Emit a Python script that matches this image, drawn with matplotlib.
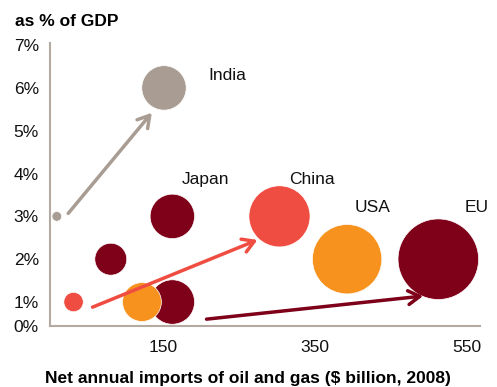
import matplotlib.pyplot as plt

plt.rcParams['font.family'] = ['Liberation Sans', 'DejaVu Sans']

# bubbles: imports ($bn), share of GDP (%), diameter (pt), colour
imports = [10, 81, 162, 162, 32, 122, 151, 303, 392, 512]
gdp_share = [3, 2, 3, 1, 1, 1, 6, 3, 2, 2]
diameters = [7, 23, 32, 32, 14, 28, 32, 44, 50, 58]
colors = ['#A89C93', '#7E0019', '#7E0019', '#7E0019', '#F04D42',
          '#F7921E', '#A89C93', '#F04D42', '#F7921E', '#7E0019']

# arrows: (start x, start y, end x, end y)
arrows = [
    (25, 3.07, 135, 5.42, '#A89C93'),
    (57, 0.88, 274, 2.45, '#F04D42'),
    (207, 0.60, 492, 1.14, '#7E0019'),
]

labels = ['India', 'Japan', 'China', 'USA', 'EU']
label_x = [209, 175, 316, 402, 546]
label_y = [6.3, 3.85, 3.85, 3.2, 3.2]

y_ticks = [0.44, 1, 2, 3, 4, 5, 6, 7]
y_tick_labels = ['0%', '1%', '2%', '3%', '4%', '5%', '6%', '7%']
x_ticks = [150, 350, 550]

fig = plt.figure(figsize=(4.97, 3.87), dpi=100)
ax = fig.add_axes([0.1006, 0.1576, 0.8654, 0.7314])

ax.scatter(imports, gdp_share, s=[d ** 2 for d in diameters], c=colors,
           edgecolors='white', linewidths=0.5, zorder=3)

for x0, y0, x1, y1, col in arrows:
    ax.annotate('', xy=(x1, y1), xytext=(x0, y0),
                arrowprops=dict(arrowstyle='->,head_length=0.55,head_width=0.33',
                                color=col, lw=2.5, mutation_scale=15,
                                shrinkA=0, shrinkB=0),
                zorder=4)

for name, lx, ly in zip(labels, label_x, label_y):
    ax.text(lx, ly, name, fontsize=12.5, ha='left', va='center', color='#111111')

ax.set_xlim(1, 567)
ax.set_ylim(0.44, 7.05)
ax.set_xticks(x_ticks)
ax.set_yticks(y_ticks)
ax.set_yticklabels(y_tick_labels)
ax.tick_params(length=0, labelsize=12.5, colors='#111111')
ax.tick_params(axis='y', pad=8)
ax.tick_params(axis='x', pad=10)

for side in ['top', 'right']:
    ax.spines[side].set_visible(False)
for side in ['left', 'bottom']:
    ax.spines[side].set_color('#B5AAA2')
    ax.spines[side].set_linewidth(1.5)

fig.text(15 / 497, 1 - 22 / 387, 'as % of GDP', fontsize=12.5,
         fontweight='bold', ha='left', va='center')
fig.text(248 / 497, 1 - 379 / 387,
         'Net annual imports of oil and gas ($ billion, 2008)',
         fontsize=12.5, fontweight='bold', ha='center', va='center')

fig.savefig('out.png', dpi=100)
